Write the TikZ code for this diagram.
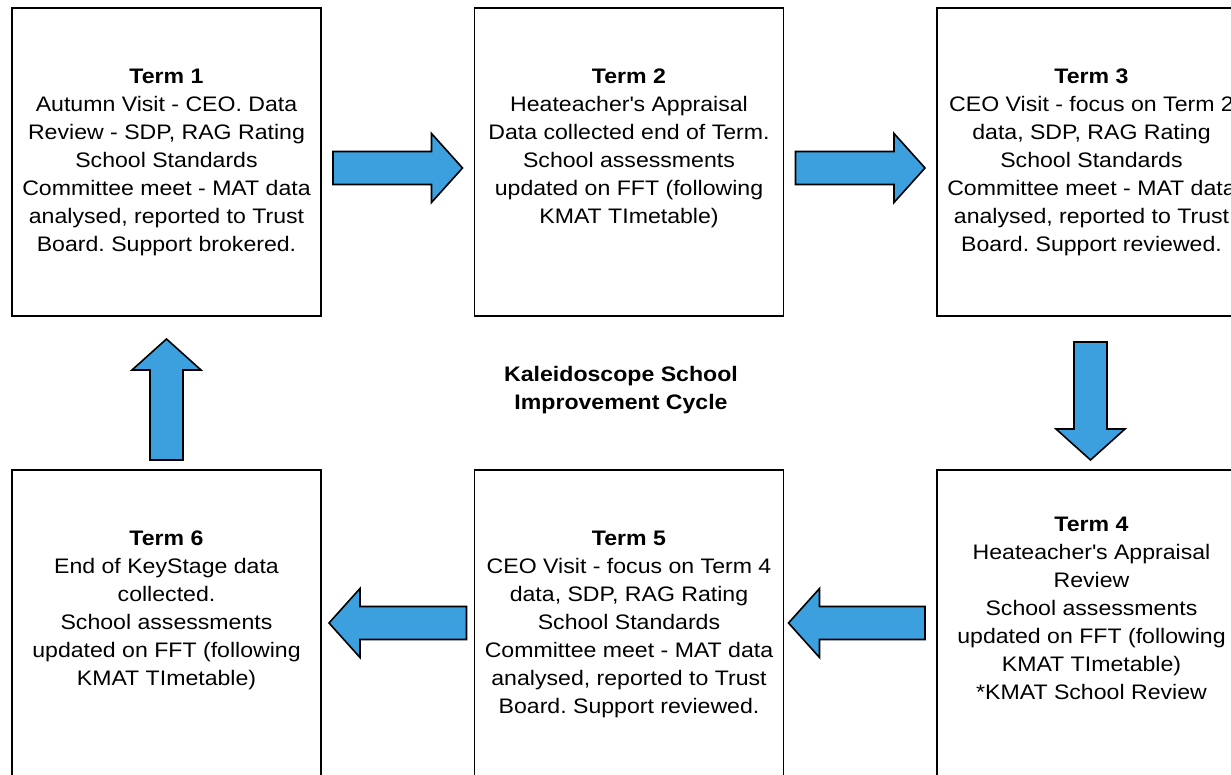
\documentclass[tikz,border=0pt]{standalone}
\usepackage{fontspec}
\setmainfont{Liberation Sans}[FakeStretch=1.1]
\usepackage{xcolor}
\usetikzlibrary{positioning, calc, arrows.meta}

\definecolor{arrowblue}{RGB}{59,160,221}
\frenchspacing

% block arrow from one point to another
\newcommand{\flowarrow}[2]{%
  \draw[flow] let \p1=#1, \p2=#2,
      \n1={atan2(\y2-\y1,\x2-\x1)}, \n2={veclen(\x2-\x1,\y2-\y1)} in
    [shift={(\p1)}, rotate=\n1]
    (0,16.5) -- ({\n2-31},16.5) -- ({\n2-31},34.5) -- (\n2,0)
    -- ({\n2-31},-34.5) -- ({\n2-31},-16.5) -- (0,-16.5) -- cycle;}
% empty last line
\newcommand{\emptyline}{\rule[-4pt]{0pt}{4pt}}

\begin{document}
\begin{tikzpicture}[x=1pt, y=1pt, >=Latex,
  termbox/.style={draw=black,line width=1.8pt,minimum width=309pt,minimum height=308pt,inner sep=0pt,outer sep=0pt,align=center,font=\fontsize{21}{28}\selectfont},
  flow/.style={draw=black,line width=1.6pt,fill=arrowblue,line join=miter},
  heading/.style={align=center,font=\fontsize{21}{28}\selectfont\bfseries}]
  \useasboundingbox (0,0) rectangle (1231,775);
  \clip (0,0) rectangle (1231,775);
  \node[termbox] (term1) at (166.5,613) {\textbf{Term 1}\\Autumn Visit - CEO. Data\\Review - SDP, RAG Rating\\School Standards\\Committee meet - MAT data\\analysed, reported to Trust\\Board. Support brokered.};
  \node[termbox, right=153.5pt of term1] (term2) {\textbf{Term 2}\\Heateacher\textquotesingle s Appraisal\\Data collected end of Term.\\School assessments\\updated on FFT (following\\KMAT TImetable)\\\emptyline};
  \node[termbox, right=153.5pt of term2] (term3) {\textbf{Term 3}\\CEO Visit - focus on Term 2\\data, SDP, RAG Rating\\School Standards\\Committee meet - MAT data\\analysed, reported to Trust\\Board. Support reviewed.};
  \node[termbox, below=154pt of term3] (term4) {\textbf{Term 4}\\Heateacher\textquotesingle s Appraisal\\Review\\School assessments\\updated on FFT (following\\KMAT TImetable)\\*KMAT School Review\\\emptyline};
  \node[termbox, left=153.5pt of term4] (term5) {\textbf{Term 5}\\CEO Visit - focus on Term 4\\data, SDP, RAG Rating\\School Standards\\Committee meet - MAT data\\analysed, reported to Trust\\Board. Support reviewed.};
  \node[termbox, left=153.5pt of term5] (term6) {\textbf{Term 6}\\End of KeyStage data\\collected.\\School assessments\\updated on FFT (following\\KMAT TImetable)\\\emptyline};
  \node[heading] (cycle) at (621,385) {Kaleidoscope School\\Improvement Cycle};
  % the cycle
  \flowarrow{($(term1.east)+(12,-6)$)}{($(term2.west)+(-12,-6)$)}
  \flowarrow{($(term2.east)+(12,-6)$)}{($(term3.west)+(-12,-6)$)}
  \flowarrow{($(term3.south)+(-1,-26)$)}{($(term4.north)+(-1,10)$)}
  \flowarrow{($(term4.west)+(-12,1)$)}{($(term5.east)+(5,1)$)}
  \flowarrow{($(term5.west)+(-8,1)$)}{($(term6.east)+(8,1)$)}
  \flowarrow{($(term6.north)+(0,10)$)}{($(term1.south)+(0,-23)$)}
\end{tikzpicture}
\end{document}
